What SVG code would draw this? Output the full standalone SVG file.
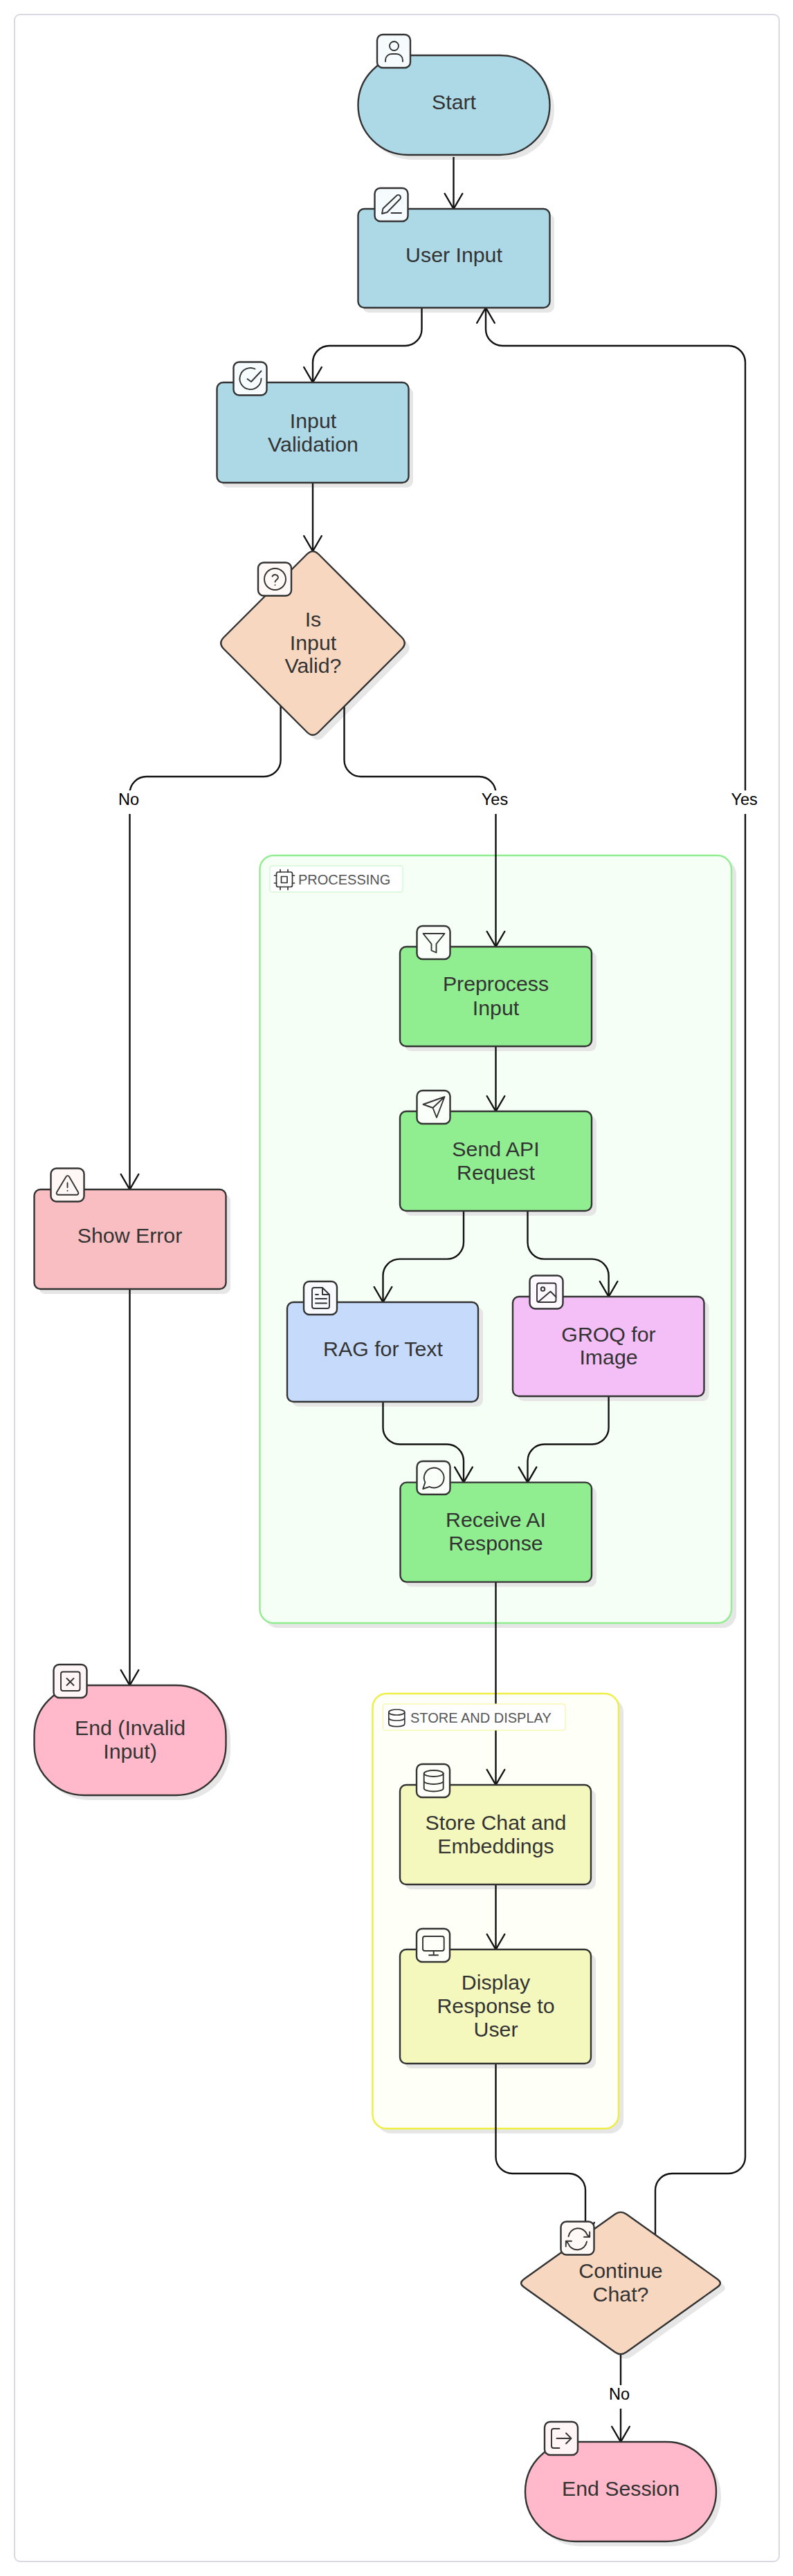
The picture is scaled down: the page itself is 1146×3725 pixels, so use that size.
<svg xmlns="http://www.w3.org/2000/svg" width="1146" height="3725" viewBox="0 0 1146 3725">
<defs>
<style>
text{font-family:"Liberation Sans",Arial,sans-serif}
.t{font-size:30.3px;fill:#333;text-anchor:middle}
.el{font-size:23.5px;fill:#000;text-anchor:middle}
.ct{font-size:20px;fill:#555}
.n{stroke:#333;stroke-width:2.400}
.sh{fill:#e6e6e6;stroke:none}
.e{fill:none;stroke:#111;stroke-width:2.400}
.ib{stroke:#333;stroke-width:2.400}
.i{fill:none;stroke:#333;stroke-width:1.900;stroke-linecap:round;stroke-linejoin:round}
.blue{fill:#add8e6}.peach{fill:#f7d7bf}.green{fill:#90ee90}.pink{fill:#ffb9ca}.err{fill:#f8bec1}.rag{fill:#c6dafb}.groq{fill:#f4bef6}.yel{fill:#f5f8bd}
</style>
<marker id="arrow" viewBox="-25 -15 27 30" markerWidth="27" markerHeight="30" refX="0" refY="0" orient="auto" markerUnits="userSpaceOnUse">
<path d="M-22 -12.800L0 0L-22 12.800" fill="none" stroke="#111" stroke-width="2.400" stroke-linecap="round" stroke-linejoin="miter"/>
</marker>
<path id="d1" d="M443.500 801.500Q452 793 460.500 801.500L580.500 921.500Q589 930 580.500 938.500L460.500 1058.500Q452 1067 443.500 1058.500L323.500 938.500Q315 930 323.500 921.500Z"/>
<path id="d2" d="M888.800 3201.800Q897 3196 905.200 3201.800L1036.800 3295.700Q1045 3301.500 1036.800 3307.300L905.200 3401.200Q897 3407 888.800 3401.200L757.200 3307.300Q749 3301.500 757.200 3295.700Z"/>
</defs>
<rect width="1146" height="3725" fill="#fff"/>
<rect id="frame" x="21" y="21" width="1105" height="3683" rx="8" fill="#fff" stroke="#d9d9e3" stroke-width="2"/>

<g id="clusters">
<rect x="382" y="1244" width="682" height="1110" rx="20" class="sh"/>
<rect x="375.500" y="1237" width="681.500" height="1110" rx="20" fill="#f6fff6" stroke="#90ee90" stroke-width="2.400"/>
<rect x="545" y="2456" width="356" height="629" rx="20" class="sh"/>
<rect x="538.500" y="2449" width="355.500" height="629" rx="20" fill="#fefff6" stroke="#eeee44" stroke-width="2.400"/>
</g>

<g id="shadows">
<rect x="524" y="87" width="277" height="144" rx="72" class="sh"/>
<rect x="524" y="309" width="277" height="143" rx="9" class="sh"/>
<rect x="320" y="560" width="277" height="145" rx="9" class="sh"/>
<use href="#d1" class="sh" transform="translate(7 7)"/>
<rect x="56" y="1727" width="277" height="144" rx="9" class="sh"/>
<rect x="56" y="2444" width="277" height="159" rx="72" class="sh"/>
<rect x="585" y="1376" width="277" height="144" rx="9" class="sh"/>
<rect x="585" y="1614" width="277" height="144" rx="9" class="sh"/>
<rect x="422" y="1890" width="276" height="144" rx="9" class="sh"/>
<rect x="748" y="1882" width="276.500" height="144" rx="9" class="sh"/>
<rect x="585.500" y="2150.600" width="276.500" height="144" rx="9" class="sh"/>
<rect x="585" y="2588" width="276" height="144" rx="9" class="sh"/>
<rect x="585" y="2826" width="276" height="165" rx="9" class="sh"/>
<use href="#d2" class="sh" transform="translate(7 7)"/>
<rect x="766" y="3538" width="276" height="144" rx="72" class="sh"/>
</g>

<g id="connectors">
<path class="e" marker-end="url(#arrow)" d="M655.500 227V302"/>
<path class="e" marker-end="url(#arrow)" d="M609.500 445V476A24 24 0 0 1 585.500 500H476A24 24 0 0 0 452 524V553"/>
<path class="e" marker-end="url(#arrow)" d="M452 698V797"/>
<path class="e" marker-end="url(#arrow)" d="M405.600 1020V1099A24 24 0 0 1 381.600 1123H211.500A24 24 0 0 0 187.500 1147V1720"/>
<path class="e" marker-end="url(#arrow)" d="M497.500 1020V1099A24 24 0 0 0 521.500 1123H692.500A24 24 0 0 1 716.500 1147V1369"/>
<path class="e" marker-end="url(#arrow)" d="M716.500 1513V1607"/>
<path class="e" marker-end="url(#arrow)" d="M670 1751V1796.600A24 24 0 0 1 646 1820.600H577.500A24 24 0 0 0 553.500 1844.600V1883"/>
<path class="e" marker-end="url(#arrow)" d="M762.500 1751V1796.600A24 24 0 0 0 786.500 1820.600H855.600A24 24 0 0 1 879.600 1844.600V1875"/>
<path class="e" marker-end="url(#arrow)" d="M553.500 2027V2064.500A24 24 0 0 0 577.500 2088.500H646A24 24 0 0 1 670 2112.500V2143.600"/>
<path class="e" marker-end="url(#arrow)" d="M879.600 2019V2064.500A24 24 0 0 1 855.600 2088.500H786.500A24 24 0 0 0 762.500 2112.500V2143.600"/>
<path class="e" marker-end="url(#arrow)" d="M716.500 2287.500V2581"/>
<path class="e" marker-end="url(#arrow)" d="M716.500 2725V2819"/>
<path class="e" marker-end="url(#arrow)" d="M716.500 2984V3119A24 24 0 0 0 740.500 3143H822A24 24 0 0 1 846 3167V3236"/>
<path class="e" marker-end="url(#arrow)" d="M947 3232V3167A24 24 0 0 1 971 3143H1053A24 24 0 0 0 1077 3119V524A24 24 0 0 0 1053 500H726A24 24 0 0 1 702 476V445"/>
<path class="e" marker-end="url(#arrow)" d="M897 3404V3531"/>
<path class="e" marker-end="url(#arrow)" d="M187.500 1864V2437"/>
</g>

<g id="edge-labels">
<rect x="166" y="1143" width="43" height="34" fill="#fff"/><text class="el" x="186" y="1164">No</text>
<rect x="692" y="1143" width="49" height="34" fill="#fff"/><text class="el" x="715" y="1164">Yes</text>
<rect x="1053" y="1143" width="49" height="34" fill="#fff"/><text class="el" x="1075.700" y="1164">Yes</text>
<rect x="875" y="3449" width="43" height="34" fill="#fff"/><text class="el" x="895" y="3470">No</text>
</g>

<g id="cluster-processing-label">
<rect x="390" y="1252" width="192" height="38" rx="3" fill="#fff" stroke="#c4f5c4" stroke-width="1"/>
<g fill="none" stroke="#333" stroke-width="1.700" stroke-linecap="round" stroke-linejoin="round">
<rect x="399.500" y="1261" width="23" height="21.500" rx="2.500"/><rect x="406.500" y="1267.500" width="8.500" height="9"/>
<path d="M405 1257.500V1261M416 1257.500V1261M405 1282.500V1286.500M416 1282.500V1286.500M396.500 1266H399.500M396.500 1277H399.500M422.500 1266H425.500M422.500 1277H425.500"/>
</g>
<text class="ct" x="431" y="1279">PROCESSING</text>
</g>
<g id="cluster-store-label">
<rect x="553.500" y="2464" width="263.500" height="38" rx="3" fill="#fff" stroke="#f4f490" stroke-width="1"/>
<g fill="none" stroke="#333" stroke-width="1.700">
<ellipse cx="573.300" cy="2476" rx="11.500" ry="4"/>
<path d="M561.800 2476V2492.500C561.800 2495 567 2496.600 573.300 2496.600S584.800 2495 584.800 2492.500V2476M561.800 2484C561.800 2486.500 567 2488 573.300 2488S584.800 2486.500 584.800 2484"/>
</g>
<text class="ct" x="593" y="2491">STORE AND DISPLAY</text>
</g>

<g id="node-start">
<rect class="n blue" x="517.500" y="80" width="277" height="144" rx="72"/>
<text class="t" x="656" y="158">Start</text>
<g transform="translate(545 50)"><rect class="ib" width="48" height="48" rx="8" fill="#f6fbfd"/>
<circle class="i" cx="24.500" cy="16.500" r="6.500"/><path class="i" d="M12 39V37A9 9 0 0 1 21 28H28A9 9 0 0 1 37 37V39"/></g>
</g>
<g id="node-user-input">
<rect class="n blue" x="517.500" y="302" width="277" height="143" rx="9"/>
<text class="t" x="656" y="379">User Input</text>
<g transform="translate(541.500 272)"><rect class="ib" width="48" height="48" rx="8" fill="#f6fbfd"/>
<path class="i" d="M10.500 37L12 29.500L31.500 11A3.500 3.500 0 0 1 36.500 16L18 35ZM24 36H38.500"/></g>
</g>
<g id="node-input-validation">
<rect class="n blue" x="313.500" y="553" width="277" height="145" rx="9"/>
<text class="t" x="452.500" y="619">Input</text><text class="t" x="452.500" y="653">Validation</text>
<g transform="translate(337.500 523.500)"><rect class="ib" width="48" height="48" rx="8" fill="#f6fbfd"/>
<path class="i" d="M40 24A15.500 15.500 0 1 1 31 10M20 24.500L25.500 28.500L40 13"/></g>
</g>
<g id="node-is-input-valid">
<use href="#d1" class="n peach"/>
<text class="t" x="452.500" y="906">Is</text><text class="t" x="452.500" y="940">Input</text><text class="t" x="452.500" y="973">Valid?</text>
<g transform="translate(373 813.500)"><rect class="ib" width="48" height="48" rx="8" fill="#fef9f6"/>
<circle class="i" cx="24.500" cy="24" r="15.500"/><path class="i" d="M20.500 20A4.500 4.500 0 0 1 29 21.500C29 24.500 24.500 25.500 24.500 28M24.500 32.500V32.600"/></g>
</g>
<g id="node-show-error">
<rect class="n err" x="49.500" y="1720" width="277" height="144" rx="9"/>
<text class="t" x="187.500" y="1797">Show Error</text>
<g transform="translate(73.500 1689.500)"><rect class="ib" width="48" height="48" rx="8" fill="#fff6f6"/>
<path class="i" d="M22 12A2.500 2.500 0 0 1 26.500 12L39.500 34.500A2.500 2.500 0 0 1 37.500 38.300H10.500A2.500 2.500 0 0 1 8.500 34.500ZM24 21V27.500M24 32.300V32.400"/></g>
</g>
<g id="node-end-invalid">
<rect class="n pink" x="49.500" y="2437" width="277" height="159" rx="72"/>
<text class="t" x="188" y="2509">End (Invalid</text><text class="t" x="188" y="2543">Input)</text>
<g transform="translate(77.500 2407)"><rect class="ib" width="48" height="48" rx="8" fill="#fff5f7"/>
<rect class="i" x="10.500" y="10.500" width="27.500" height="27.500" rx="3"/><path class="i" d="M19 20L29 30M29 20L19 30"/></g>
</g>
<g id="node-preprocess">
<rect class="n green" x="578" y="1369" width="277" height="144" rx="9"/>
<text class="t" x="716.500" y="1433">Preprocess</text><text class="t" x="716.500" y="1467.500">Input</text>
<g transform="translate(602.500 1339)"><rect class="ib" width="48" height="48" rx="8" fill="#fafffa"/>
<path class="i" d="M9 11H40L28 26V38.500L21 35.500V26Z"/></g>
</g>
<g id="node-send-api">
<rect class="n green" x="578" y="1607" width="277" height="144" rx="9"/>
<text class="t" x="716.500" y="1672">Send API</text><text class="t" x="716.500" y="1706">Request</text>
<g transform="translate(602.500 1577)"><rect class="ib" width="48" height="48" rx="8" fill="#fafffa"/>
<path class="i" d="M40 9L9 20L23 25L28.500 39ZM23 25L40 9"/></g>
</g>
<g id="node-rag">
<rect class="n rag" x="415" y="1883" width="276" height="144" rx="9"/>
<text class="t" x="553.500" y="1960.500">RAG for Text</text>
<g transform="translate(439 1853)"><rect class="ib" width="48" height="48" rx="8" fill="#f8faff"/>
<path class="i" d="M12 12A3 3 0 0 1 15 9H27L37 19V36A3 3 0 0 1 34 39H15A3 3 0 0 1 12 36ZM27 9V19H37M17 19H21M17 25H33M17 31.500H33"/></g>
</g>
<g id="node-groq">
<rect class="n groq" x="741" y="1875" width="276.500" height="144" rx="9"/>
<text class="t" x="879.500" y="1939.500">GROQ for</text><text class="t" x="879.500" y="1973">Image</text>
<g transform="translate(765.500 1844.500)"><rect class="ib" width="48" height="48" rx="8" fill="#fdf7fe"/>
<rect class="i" x="10.500" y="11" width="27.500" height="27.500" rx="3"/><circle class="i" cx="19" cy="19.500" r="2.800"/><path class="i" d="M12.500 38L30 23L38 31"/></g>
</g>
<g id="node-receive">
<rect class="n green" x="578.500" y="2143.600" width="276.500" height="144" rx="9"/>
<text class="t" x="716.500" y="2207.500">Receive AI</text><text class="t" x="716.500" y="2242">Response</text>
<g transform="translate(602.500 2113)"><rect class="ib" width="48" height="48" rx="8" fill="#fafffa"/>
<path class="i" d="M18.100 36.800A14.400 14.400 0 1 0 11.900 30.600L8.700 40Z"/></g>
</g>
<g id="node-store">
<rect class="n yel" x="578" y="2581" width="276" height="144" rx="9"/>
<text class="t" x="716.500" y="2646">Store Chat and</text><text class="t" x="716.500" y="2680">Embeddings</text>
<g transform="translate(602 2551)"><rect class="ib" width="48" height="48" rx="8" fill="#fefff8"/>
<ellipse class="i" cx="24.700" cy="13.500" rx="14" ry="4.500"/><path class="i" d="M10.700 13.500V35C10.700 37.500 16.700 39.500 24.700 39.500S38.700 37.500 38.700 35V13.500M10.700 24.500C10.700 27 16.700 29 24.700 29S38.700 27 38.700 24.500"/></g>
</g>
<g id="node-display">
<rect class="n yel" x="578" y="2819" width="276" height="165" rx="9"/>
<text class="t" x="716.500" y="2877">Display</text><text class="t" x="716.500" y="2911">Response to</text><text class="t" x="716.500" y="2945">User</text>
<g transform="translate(602 2789)"><rect class="ib" width="48" height="48" rx="8" fill="#fefff8"/>
<rect class="i" x="9" y="11" width="30.700" height="21" rx="3"/><path class="i" d="M24.700 32V38.300M18 38.300H31"/></g>
</g>
<g id="node-continue">
<use href="#d2" class="n peach"/>
<text class="t" x="897" y="3294">Continue</text><text class="t" x="897" y="3328">Chat?</text>
<g transform="translate(810.500 3212.500)"><rect class="ib" width="48" height="48" rx="8" fill="#fef9f6"/>
<path class="i" d="M41.700 15V22.300H33.500M11 21.500A14 14 0 0 1 38 19L41.700 22.300M7.300 36V28.300H15.500M37.500 29A14 14 0 0 1 10.500 31.500L7.300 28.300"/></g>
</g>
<g id="node-end-session">
<rect class="n pink" x="759" y="3531" width="276" height="144" rx="72"/>
<text class="t" x="897" y="3609">End Session</text>
<g transform="translate(787 3502)"><rect class="ib" width="48" height="48" rx="8" fill="#fff5f7"/>
<path class="i" d="M21.500 10H13A3 3 0 0 0 10 13V35A3 3 0 0 0 13 38H21.500M17.500 24H38M31 16.500L38.500 24L31 31.500"/></g>
</g>
</svg>
